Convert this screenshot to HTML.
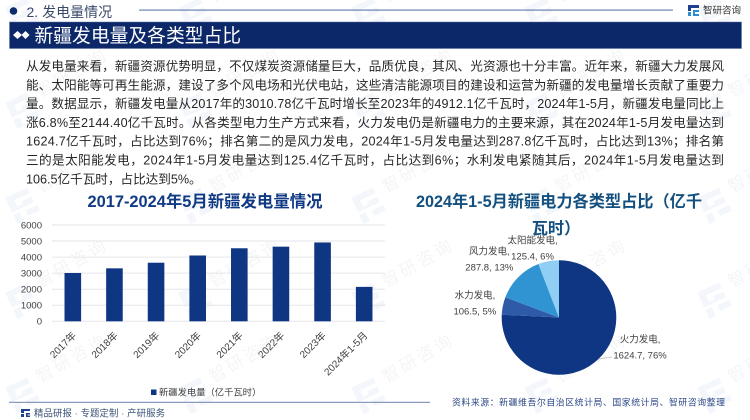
<!DOCTYPE html>
<html lang="zh"><head><meta charset="utf-8"><title>新疆发电量及各类型占比</title>
<style>
html,body{margin:0;padding:0;background:#fff;width:750px;height:420px;overflow:hidden}
svg{display:block}
text{font-family:"Liberation Sans","Noto Sans CJK SC",sans-serif}
.body-line{font-size:12.6px;fill:#262626}
.tick{font-size:9.5px;fill:#404040}
.x-tick{font-size:10px;fill:#404040}
.pie-label{font-size:9.5px;fill:#404040;text-anchor:middle}
</style></head>
<body>
<svg id="page" xmlns="http://www.w3.org/2000/svg" width="750" height="420" viewBox="0 0 750 420">
<defs>
<pattern id="wm" patternUnits="userSpaceOnUse" x="3" y="-5" width="173" height="95">
<g fill="#f3f6fa" transform="rotate(-25 20 20) translate(5 4)">
<path d="M2 2h24v6H9v7h6v-3h11v6H15v0H2z"/><path d="M2 21h7v10H2zM15 22h13v6H15z"/>
</g>
<g fill="#f4f5f7" font-size="17" text-anchor="middle" letter-spacing="3">
<text x="0" y="0" transform="translate(72,83) rotate(-30)">智研咨询</text>
<text x="0" y="0" transform="translate(72,-12) rotate(-30)">智研咨询</text>
</g>
</pattern>
</defs>
<rect width="750" height="420" fill="#fff"/>
<rect width="750" height="420" fill="url(#wm)"/>

<g>
<circle cx="13.5" cy="11" r="3.8" fill="#0d2b6b"/>
<text x="26.5" y="17" font-size="14" fill="#3a4a6b">2. 发电量情况</text>
<rect x="139" y="9.5" width="534" height="1.2" fill="#6d82b0"/>
<g>
<path d="M688 5h11v3h-8v3h-3z" fill="#1f3f8f"/><path d="M688 12h3v4h-3z" fill="#2a8fd6"/><path d="M693 10h6v2h-4v2h4v2h-6z" fill="#2a8fd6"/>
</g>
<text x="703" y="13.5" font-size="9.5" fill="#333">智研咨询</text>
</g>

<g>
<rect x="9.5" y="22" width="732" height="26.5" fill="#0c2868" stroke="#5a70a5" stroke-width=".5"/>
<path d="M13 35l4.5-4 4.5 4-4.5 4z" fill="#fff"/>
<path d="M21.5 35l4-4 4 4-4 4z" fill="#fff"/>
<text x="34.5" y="42" font-size="18.8" fill="#fff">新疆发电量及各类型占比</text>
</g>

<g>
<text class="body-line" x="26" y="70.5" textLength="698" lengthAdjust="spacing">从发电量来看，新疆资源优势明显，不仅煤炭资源储量巨大，品质优良，其风、光资源也十分丰富。近年来，新疆大力发展风</text>
<text class="body-line" x="26" y="89.3" textLength="698" lengthAdjust="spacing">能、太阳能等可再生能源，建设了多个风电场和光伏电站，这些清洁能源项目的建设和运营为新疆的发电量增长贡献了重要力</text>
<text class="body-line" x="26" y="108.1" textLength="698" lengthAdjust="spacing">量。数据显示，新疆发电量从2017年的3010.78亿千瓦时增长至2023年的4912.1亿千瓦时，2024年1-5月，新疆发电量同比上</text>
<text class="body-line" x="26" y="126.9" textLength="698" lengthAdjust="spacing">涨6.8%至2144.40亿千瓦时。从各类型电力生产方式来看，火力发电仍是新疆电力的主要来源，其在2024年1-5月发电量达到</text>
<text class="body-line" x="26" y="145.7" textLength="698" lengthAdjust="spacing">1624.7亿千瓦时，占比达到76%；排名第二的是风力发电，2024年1-5月发电量达到287.8亿千瓦时，占比达到13%；排名第</text>
<text class="body-line" x="26" y="164.5" textLength="698" lengthAdjust="spacing">三的是太阳能发电，2024年1-5月发电量达到125.4亿千瓦时，占比达到6%；水利发电紧随其后，2024年1-5月发电量达到</text>
<text class="body-line" x="26" y="183.3">106.5亿千瓦时，占比达到5%。</text>
</g>

<text x="205" y="207" font-size="16.4" font-weight="bold" fill="#113a85" text-anchor="middle">2017-2024年5月新疆发电量情况</text>
<g id="bar-chart"></g>
<g>
<rect x="151" y="389.5" width="5.5" height="5.5" fill="#0e3682"/>
<text x="159" y="395.5" font-size="9.3" fill="#404040">新疆发电量（亿千瓦时）</text>
</g>

<text x="559" y="207" font-size="16.2" font-weight="bold" fill="#14507f" text-anchor="middle">2024年1-5月新疆电力各类型占比（亿千</text>
<text x="556" y="234" font-size="16.2" font-weight="bold" fill="#14507f" text-anchor="middle">瓦时）</text>
<g id="pie-chart"></g>

<g>
<rect x="9" y="401.8" width="421" height="1" fill="#6d82b0"/>
<path d="M21 409h9v2h-6v2h-3zM21 414h3v3h-3zM26 413h4v1.5h-2.5v1h2.5v1.5h-4z" fill="#1f3f8f"/>
<text x="34" y="416.5" font-size="9.4" textLength="131" lengthAdjust="spacing" fill="#3a5278">精品研报 · 专题定制 · 产研服务</text>
<text x="452" y="405.5" font-size="8.9" textLength="273" lengthAdjust="spacing" fill="#2f4a8a">资料来源：新疆维吾尔自治区统计局、国家统计局、智研咨询整理</text>
</g>
</svg>
<script>
const barCategories = ['2017年','2018年','2019年','2020年','2021年','2022年','2023年','2024年1-5月'];
const barValues = [3010.78, 3300, 3650, 4100, 4550, 4650, 4912.1, 2144.4];
const yTickLabels = [0, 1000, 2000, 3000, 4000, 5000, 6000];
const pieCategories = ['火力发电','水力发电','风力发电','太阳能发电'];
const pieValues = [1624.7, 106.5, 287.8, 125.4];
const piePercents = ['76%','5%','13%','6%'];

const NS = 'http://www.w3.org/2000/svg';
function make(parent, tag, attrs, txt) {
  const el = document.createElementNS(NS, tag);
  for (const k in attrs) el.setAttribute(k, attrs[k]);
  if (txt !== undefined) el.textContent = txt;
  parent.appendChild(el);
  return el;
}

// Bar chart
const barRoot = document.getElementById('bar-chart');
const plot = { left: 52, right: 385, top: 225, bottom: 321.3, yMax: 6000 };
const yScale = v => plot.bottom - (v / plot.yMax) * (plot.bottom - plot.top);
const bandW = (plot.right - plot.left) / barCategories.length;
const xBand = i => plot.left + bandW * (i + 0.5);

yTickLabels.forEach(t => {
  const line = make(barRoot, 'line', { x1: plot.left, x2: plot.right, y1: yScale(t), y2: yScale(t), stroke: '#e6e6ea', 'stroke-width': 1 });
  
  
  const label = make(barRoot, 'text', { class: 'tick', x: 42, y: yScale(t) + 3.4, 'text-anchor': 'end' }, t);
  
  
});
barValues.forEach((v, i) => {
  const barW = 16.6;
  const bar = make(barRoot, 'rect', { x: xBand(i) - barW / 2, y: yScale(v), width: barW, height: plot.bottom - yScale(v), fill: '#0e3682' });
  
  
  const ax = xBand(i) + 4, ay = 336;
  const label = make(barRoot, 'text', { class: 'x-tick', x: ax, y: ay, 'text-anchor': 'end', transform: 'rotate(-45 ' + ax + ' ' + ay + ')' }, barCategories[i]);
  
  
});

// Pie chart
const pieRoot = document.getElementById('pie-chart');
const pie = { cx: 559, cy: 317.5, r: 57.3 };
const labelNudge = [[41.5, -10.6], [-28, -1.5], [-29, -16.7], [-16, -11.8]];
const total = pieValues.reduce((a, b) => a + b, 0);
const polar = (turn, r) => [pie.cx + r * Math.sin(turn * 2 * Math.PI), pie.cy - r * Math.cos(turn * 2 * Math.PI)];
const pieColors = ['#0e3682', '#2f5aa8', '#3094d2', '#90cef3'];
let acc = 0;
pieValues.forEach((v, i) => {
  const start = acc / total, end = (acc + v) / total;
  acc += v;
  const p0 = polar(start, pie.r), p1 = polar(end, pie.r);
  const large = end - start > 0.5 ? 1 : 0;
  const slice = make(pieRoot, 'path', { d: 'M' + pie.cx + ' ' + pie.cy + 'L' + p0[0] + ' ' + p0[1] + 'A' + pie.r + ' ' + pie.r + ' 0 ' + large + ' 1 ' + p1[0] + ' ' + p1[1] + 'Z', fill: pieColors[i] });
  
  
  const mid = polar((start + end) / 2, pie.r);
  const lx = mid[0] + labelNudge[i][0], ly = mid[1] + labelNudge[i][1];
  const name = make(pieRoot, 'text', { class: 'pie-label', x: lx, y: ly - 6 }, pieCategories[i] + ',');
  
  
  const val = make(pieRoot, 'text', { class: 'pie-label', x: lx, y: ly + 10 }, v + ', ' + piePercents[i]);
  
  
  if (i === 0) {
    const leader = make(pieRoot, 'line', { x1: mid[0], y1: mid[1], x2: lx - 28, y2: ly + 8.6, stroke: '#bdbdbd', 'stroke-width': 0.8 });
    
    
  }
});
</script>
</body></html>
